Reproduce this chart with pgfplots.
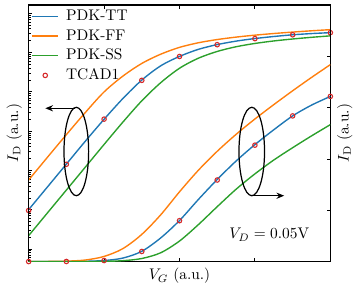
\documentclass[border=0pt]{standalone}
\usepackage{pgfplots}
\pgfplotsset{compat=1.18}
\usepackage{pgfplotstable}
\usetikzlibrary{arrows.meta}
\definecolor{tabblue}{RGB}{31,119,180}
\definecolor{taborange}{RGB}{255,127,14}
\definecolor{tabgreen}{RGB}{44,160,44}
\definecolor{tabred}{RGB}{214,39,40}

\pgfplotstableread{
x y
0 1.01e-4
0.25 3.83e-4
0.5 1.455e-3
0.75 5.53e-3
1.0 0.0201
1.25 0.0681
1.5 0.200
1.75 0.46
2.0 0.80
2.25 1.21
2.5 1.60
2.75 1.96
3.0 2.28
3.25 2.57
3.5 2.84
3.75 3.05
4.0 3.22
}\dataTT

\pgfplotstableread{
x y
0 5.73e-4
0.25 2.18e-3
0.5 8.18e-3
0.75 0.0297
1.0 0.100
1.25 0.253
1.5 0.53
1.75 0.91
2.0 1.36
2.25 1.78
2.5 2.15
2.75 2.48
3.0 2.78
3.25 3.06
3.5 3.33
3.75 3.59
4.0 3.84
}\dataFF

\pgfplotstableread{
x y
0 2.2e-5
0.25 8.38e-5
0.5 3.18e-4
0.75 1.21e-3
1.0 4.60e-3
1.25 0.0171
1.5 0.0593
1.75 0.171
2.0 0.40
2.25 0.72
2.5 1.07
2.75 1.41
3.0 1.71
3.25 1.98
3.5 2.22
3.75 2.45
4.0 2.67
}\dataSS

\pgfplotstableread{
x y
0 9.6e-5
0.5 1.44e-3
1.0 0.0203
1.5 0.197
2.0 0.797
2.5 1.59
3.0 2.27
3.5 2.84
4.0 3.22
}\dataTCAD

\pgfplotsset{
  common/.style={
    scale only axis, width=195.9pt, height=166.5pt,
    xmin=0, xmax=4,
    tick align=inside,
    major tick length=2.2pt, minor tick length=1.3pt,
    every tick/.style={line width=0.6pt, black},
    axis line style={line width=1pt},
  },
  curve/.style={line width=0.9pt, no marks, smooth},
  tcad/.style={only marks, mark=o, mark size=1.45pt, color=tabred, mark options={line width=0.7pt}},
}

\begin{document}
\begin{tikzpicture}
\begin{axis}[common,
  ymode=log, ymin=4.82e-6, ymax=16.14,
  xtick={0,1,2,3,4}, xticklabels={}, xtick pos=both,
  ytick pos=left, yticklabels={},
  xlabel={$V_G$ (a.u.)},
  ylabel={$I_\mathrm{D}$ (a.u.)},
  xlabel style={at={(axis description cs:0.5,0)}, anchor=north, inner sep=4.2pt},
  ylabel style={at={(axis description cs:0,0.5)}, anchor=south, inner sep=4.2pt},
  legend style={draw=none, fill=none, at={(axis description cs:0,1)}, anchor=north west, xshift=1.6pt, inner xsep=0pt, inner ysep=1pt, row sep=0.3pt,
    /tikz/every odd column/.append style={column sep=2.5pt}},
  legend cell align=left,
]
\addplot[curve, tabblue] table {\dataTT};
\addlegendentry{PDK-TT}
\addplot[curve, taborange] table {\dataFF};
\addlegendentry{PDK-FF}
\addplot[curve, tabgreen] table {\dataSS};
\addlegendentry{PDK-SS}
\addplot[tcad] table {\dataTCAD};
\addlegendentry{TCAD1}
\end{axis}
\begin{axis}[common,
  ymin=0, ymax=5,
  ytick={0,1,2,3,4,5}, yticklabels={}, ytick pos=right,
  hide x axis,
  ylabel={$I_\mathrm{D}$ (a.u.)},
  ylabel style={at={(axis description cs:1,0.5)}, anchor=north, inner sep=4.2pt},
]
\addplot[curve, tabblue] table {\dataTT};
\addplot[curve, taborange] table {\dataFF};
\addplot[curve, tabgreen] table {\dataSS};
\addplot[tcad] table {\dataTCAD};
\draw[line width=0.8pt] (axis cs:0.632,2.146) ellipse [x radius=8pt, y radius=28.7pt];
\draw[line width=0.8pt, -{Stealth[length=5pt, width=4pt]}] (axis cs:0.61,2.989) -- (axis cs:0.221,2.989);
\draw[line width=0.8pt] (axis cs:2.958,2.146) ellipse [x radius=8.3pt, y radius=28.7pt];
\draw[line width=0.8pt, -{Stealth[length=5pt, width=4pt]}] (axis cs:2.958,1.284) -- (axis cs:3.388,1.284);
\node[anchor=base] at (axis description cs:0.798,0.088) {$V_D = 0.05\mathrm{V}$};
\end{axis}
\end{tikzpicture}
\end{document}
